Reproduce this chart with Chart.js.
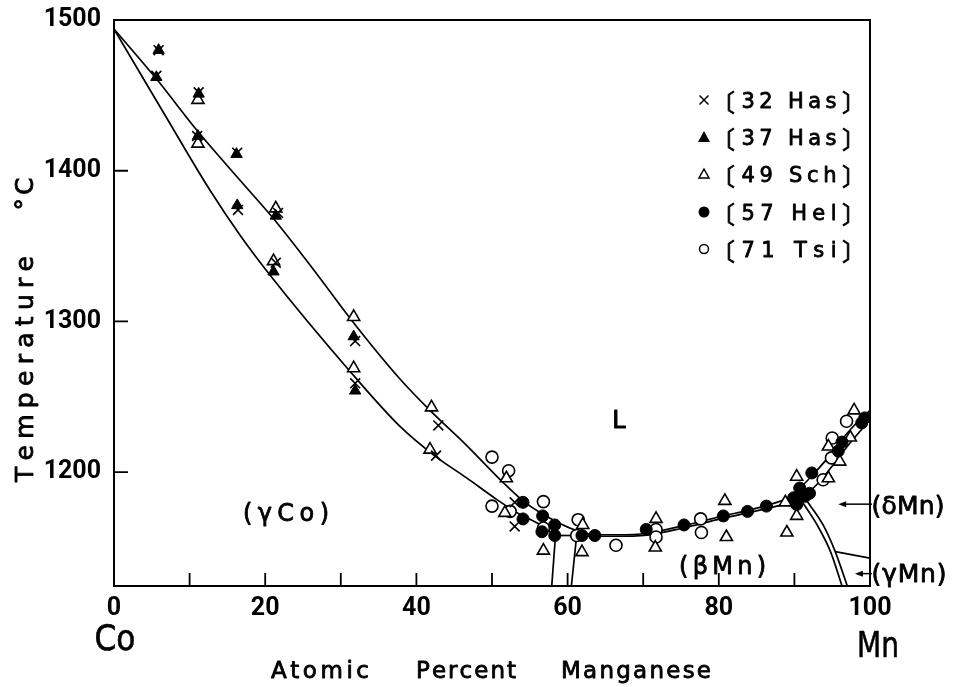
<!DOCTYPE html>
<html><head><meta charset="utf-8">
<script src="https://cdn.jsdelivr.net/npm/chart.js@4.4.1/dist/chart.umd.min.js"></script>
<style>html,body{margin:0;padding:0;background:#fff}#wrap{width:953px;height:687px;position:relative}</style>
</head><body><div id="wrap"><canvas id="c"></canvas></div>
<script>
// ---------- data ----------
const xTickLabels = [0, 20, 40, 60, 80, 100];
const xMinorTicks = [10, 20, 30, 40, 50, 60, 70, 80, 90];
const yTickLabels = [1200, 1300, 1400, 1500];
const yMinorTicks = [1200, 1300, 1400];
const seriesNames = ['32 Has', '37 Has', '49 Sch', '57 Hel', '71 Tsi'];

const has32 = [[5.9,1480],[5.6,1463],[11.2,1452],[11.0,1423],[16.3,1412],[16.4,1374],[21.7,1372],[21.4,1339],[31.9,1287],[31.9,1259],[42.9,1231],[42.6,1211],[53.0,1180],[53.0,1164]];
const has37 = [[5.9,1480],[5.6,1462],[11.2,1451],[11.1,1423],[16.2,1411],[16.3,1377],[21.4,1370],[21.1,1333],[31.7,1290],[31.9,1254]];
const sch49 = [[11.1,1447],[11.1,1418],[21.4,1375],[21.1,1340],[31.7,1303],[31.7,1269],[42.0,1243],[41.8,1215],[51.9,1196],[51.7,1173],[56.8,1148],[61.9,1147],[62.0,1165],[71.7,1169],[71.6,1150],[80.8,1181],[81.0,1157],[88.8,1180],[89.0,1160],[90.3,1197],[90.3,1171],[94.5,1196],[94.5,1217],[96.0,1207],[97.4,1223],[97.9,1241]];
const hel57 = [[54.1,1180],[54.1,1169],[56.7,1171],[56.6,1160.5],[58.3,1165],[58.3,1158],[61.9,1158],[63.6,1158],[70.4,1162],[75.4,1165],[80.6,1171],[83.8,1174],[86.3,1177.5],[89.9,1183],[90.3,1178.5],[90.7,1189.5],[91.4,1184],[92.3,1199.5],[92.0,1186],[95.8,1214],[96.3,1220],[98.9,1232.7],[99.3,1236]];
const tsi71 = [[50.0,1210],[52.2,1201],[50.0,1177.5],[52.4,1174],[56.8,1180.5],[56.8,1163],[61.4,1168.5],[61.2,1158],[66.4,1151.5],[71.7,1162],[71.7,1157],[77.6,1169],[77.7,1160],[93.8,1195],[94.9,1209.5],[95.0,1222.7],[96.9,1233.8]];

// phase boundary curves
const liquidus = [[0,1494],[5.6,1461],[11.1,1426],[16.7,1393.5],[21.3,1367],[26.3,1335],[31.4,1301],[37.8,1262],[41.8,1241],[46.6,1218],[51.5,1193],[54.1,1181],[56.8,1172],[60.8,1162],[63.5,1158.5],[66.5,1158.5],[70.5,1159.5],[75.3,1164.5],[80.2,1170.5],[86.0,1177.5],[89.5,1184],[92.0,1196],[94.0,1207],[96.0,1220],[98.0,1231.5],[100,1241]];
const solidusCo = [[0,1494],[6.5,1439],[12.7,1387],[16.7,1357],[20.6,1331],[31.2,1267],[37.8,1230.5],[42.2,1211.7],[46.65,1196.2],[50.6,1182],[53.7,1172],[56.3,1165.4],[58.4,1158]];
const peritecticCo = [[58.4,1158],[61.2,1158]];
const coBoundary = [[58.4,1158],[57.9,1124.5]];
const mnBoundaryLeft = [[61.2,1158],[60.5,1124.5]];
const solidusBetaMn = [[61.2,1157.5],[66.0,1157.5],[70.5,1158.3],[75.3,1163],[80.2,1169],[86.0,1175.5],[89.5,1180],[90.8,1182]];
const solidusDeltaMn = [[90.8,1182],[93.2,1193],[95.3,1206],[97.3,1219],[99.0,1229],[100,1235]];
const betaDelta1 = [[90.8,1182],[93.0,1165],[94.8,1147],[96.3,1124.5]];
const betaDelta2 = [[91.5,1182],[93.8,1165],[95.4,1147.3],[97.0,1124.5]];
const gammaDelta = [[95.4,1147.3],[100,1143]];

// ---------- chart ----------
const XMIN = 0, XMAX = 100, YMIN = 1124.5, YMAX = 1500;
const FONT = 'Roboto, "DejaVu Sans", sans-serif';
const DV = '"DejaVu Sans", sans-serif';
const toXY = a => a.map(p => ({x: p[0], y: p[1]}));

function curve(d) {
  return {data: toXY(d), showLine: true, pointRadius: 0, pointHoverRadius: 0,
    borderColor: '#000', borderWidth: 1.7, fill: false,
    cubicInterpolationMode: d.length > 2 ? 'monotone' : 'default', tension: 0};
}

function drawSpaced(ctx, text, cx, baseline, width, font, sw) {
  ctx.save();
  ctx.font = font; ctx.textAlign = 'left'; ctx.textBaseline = 'alphabetic';
  ctx.fillStyle = '#000'; ctx.strokeStyle = '#000'; ctx.lineWidth = sw == null ? 0.8 : sw; ctx.lineJoin = 'round';
  ctx.translate(cx, baseline);
  const chars = [...text];
  const ws = chars.map(c => ctx.measureText(c).width);
  const total = ws.reduce((a, b) => a + b, 0);
  const gap = chars.length > 1 ? (width - total) / (chars.length - 1) : 0;
  let x = chars.length > 1 ? -width / 2 : -total / 2;
  chars.forEach((c, i) => { ctx.fillText(c, x, 0); if (ctx.lineWidth > 0.01) ctx.strokeText(c, x, 0); x += ws[i] + gap; });
  ctx.restore();
}
function drawFit(ctx, text, cx, baseline, width, font, sw) {
  ctx.save();
  ctx.font = font; ctx.textAlign = 'center'; ctx.textBaseline = 'alphabetic';
  ctx.fillStyle = '#000'; ctx.strokeStyle = '#000'; ctx.lineWidth = sw || 0.8; ctx.lineJoin = 'round';
  const w = ctx.measureText(text).width;
  ctx.translate(cx, baseline); ctx.scale(width / w, 1);
  ctx.fillText(text, 0, 0); ctx.strokeText(text, 0, 0);
  ctx.restore();
}
function drawInk(ctx, ch, inkLeft, baseline, font) {
  ctx.save(); ctx.font = font; ctx.textAlign = 'left'; ctx.textBaseline = 'alphabetic';
  ctx.fillStyle = '#000'; ctx.strokeStyle = '#000'; ctx.lineWidth = 0.8;
  const m = ctx.measureText(ch);
  ctx.fillText(ch, inkLeft + m.actualBoundingBoxLeft, baseline);
  ctx.strokeText(ch, inkLeft + m.actualBoundingBoxLeft, baseline);
  ctx.restore();
}
function marker(ctx, type, x, y) {
  ctx.save(); ctx.strokeStyle = '#000'; ctx.fillStyle = '#000'; ctx.lineWidth = 1.5;
  ctx.beginPath();
  if (type === 'x') { ctx.moveTo(x-4.5,y-4.5); ctx.lineTo(x+4.5,y+4.5); ctx.moveTo(x+4.5,y-4.5); ctx.lineTo(x-4.5,y+4.5); ctx.stroke(); }
  else if (type === 'tf') { ctx.moveTo(x,y-6); ctx.lineTo(x+6,y+5); ctx.lineTo(x-6,y+5); ctx.closePath(); ctx.fill(); }
  else if (type === 'to') { ctx.moveTo(x,y-5); ctx.lineTo(x+5,y+4); ctx.lineTo(x-5,y+4); ctx.closePath(); ctx.stroke(); }
  else if (type === 'cf') { ctx.arc(x,y,5.5,0,Math.PI*2); ctx.fill(); }
  else if (type === 'co') { ctx.arc(x,y,4.5,0,Math.PI*2); ctx.stroke(); }
  ctx.restore();
}

const legendMarkers = ['x', 'tf', 'to', 'cf', 'co'];

const decor = {
  id: 'decor',
  afterDraw(chart) {
    const ctx = chart.ctx, a = chart.chartArea;
    const xs = chart.scales.x, ys = chart.scales.y;
    const px = v => xs.getPixelForValue(v), py = v => ys.getPixelForValue(v);
    ctx.save();
    ctx.strokeStyle = '#000'; ctx.fillStyle = '#000'; ctx.lineWidth = 2;
    // frame top and right
    ctx.beginPath(); ctx.moveTo(a.left, a.top); ctx.lineTo(a.right, a.top); ctx.lineTo(a.right, a.bottom); ctx.stroke();
    // inner ticks
    ctx.lineWidth = 1.8;
    ctx.beginPath();
    xMinorTicks.forEach(v => { ctx.moveTo(px(v), a.bottom); ctx.lineTo(px(v), a.bottom - 13); });
    yMinorTicks.forEach(v => { ctx.moveTo(a.left, py(v)); ctx.lineTo(a.left + 14, py(v)); });
    ctx.stroke();

    // legend
    const rows = [100, 137, 174, 212, 249];
    seriesNames.forEach((n, i) => {
      const cy = rows[i], bl = cy + 8;
      marker(ctx, legendMarkers[i], 704, cy);
      drawInk(ctx, '〔', 728, bl + 3, '24px "Noto Sans CJK JP"');
      drawSpaced(ctx, n, 789, bl, 95, '21px ' + DV);
      drawInk(ctx, '〕', 842, bl + 3, '24px "Noto Sans CJK JP"');
    });

    // region labels
    drawSpaced(ctx, 'L', px(66.8), py(1229.3), 1, '24px ' + DV, 1);
    drawSpaced(ctx, '(γCo)', px(22.75), py(1167.5), 86, '24px ' + DV);
    drawSpaced(ctx, '(βMn)', px(80.5), py(1132.5), 87, '24px ' + DV);
    drawSpaced(ctx, '(δMn)', a.right + 38, py(1172.5), 73, '25px ' + DV);
    drawSpaced(ctx, '(γMn)', a.right + 39, py(1127), 75, '25px ' + DV);

    // arrows
    ctx.lineWidth = 1.5;
    const arrow = (x0, x1, y) => {
      ctx.beginPath(); ctx.moveTo(x1, y); ctx.lineTo(x0 + 6, y); ctx.stroke();
      ctx.beginPath(); ctx.moveTo(x0, y); ctx.lineTo(x0 + 8, y - 3); ctx.lineTo(x0 + 8, y + 3); ctx.closePath(); ctx.fill();
    };
    arrow(px(95.8), a.right + 2, py(1178.8));
    arrow(px(98.0), a.right + 2, py(1132.7));

    // axis titles
    drawFit(ctx, 'Co', 115, 650, 41, '35px ' + DV, 0.6);
    drawFit(ctx, 'Mn', 878, 657, 42, '35px ' + DV, 0.6);
    drawSpaced(ctx, 'Atomic', 320, 678, 98, '23px ' + DV);
    drawSpaced(ctx, 'Percent', 466, 678, 100, '23px ' + DV);
    drawSpaced(ctx, 'Manganese', 636, 678, 150, '23px ' + DV);
    ctx.restore();
    // rotated titles
    ctx.save(); ctx.translate(33, 369); ctx.rotate(-Math.PI / 2);
    drawSpaced(ctx, 'Temperature', 0, 0, 226, '25px ' + DV);
    ctx.restore();
    ctx.save(); ctx.translate(33, 194); ctx.rotate(-Math.PI / 2);
    drawSpaced(ctx, '°C', 0, 0, 33, '25px ' + DV);
    ctx.restore();
  }
};

new Chart(document.getElementById('c'), {
  type: 'scatter',
  data: {
    datasets: [
      {label: seriesNames[0], data: toXY(has32), pointStyle: 'crossRot', pointRadius: 7, pointBorderWidth: 1.6, pointBorderColor: '#000', pointBackgroundColor: '#000'},
      {label: seriesNames[1], data: toXY(has37), pointStyle: 'triangle', pointRadius: 6.5, pointBorderWidth: 1, pointBorderColor: '#000', pointBackgroundColor: '#000'},
      {label: seriesNames[3], data: toXY(hel57), pointStyle: 'circle', pointRadius: 6, pointBorderWidth: 1, pointBorderColor: '#000', pointBackgroundColor: '#000'},
      {label: seriesNames[2], data: toXY(sch49), pointStyle: 'triangle', pointRadius: 7, pointBorderWidth: 1.6, pointBorderColor: '#000', pointBackgroundColor: '#fff'},
      {label: seriesNames[4], data: toXY(tsi71), pointStyle: 'circle', pointRadius: 6, pointBorderWidth: 1.6, pointBorderColor: '#000', pointBackgroundColor: '#fff'},
      curve(liquidus), curve(solidusCo), curve(peritecticCo), curve(coBoundary), curve(mnBoundaryLeft),
      curve(solidusBetaMn), curve(solidusDeltaMn), curve(betaDelta1), curve(betaDelta2), curve(gammaDelta)
    ]
  },
  options: {
    responsive: true, maintainAspectRatio: false, animation: false, events: [],
    devicePixelRatio: 1,
    layout: {padding: {top: 18, right: 83, left: 0, bottom: 0}},
    plugins: {legend: {display: false}, tooltip: {enabled: false}},
    scales: {
      x: {
        type: 'linear', position: 'bottom', min: XMIN, max: XMAX,
        afterBuildTicks: s => { s.ticks = xTickLabels.map(v => ({value: v})); },
        afterFit: s => { s.height = 101; },
        grid: {display: false},
        border: {display: true, color: '#000', width: 2},
        ticks: {color: '#000', font: {family: FONT, size: 25, weight: 'bold'}, padding: 0, maxRotation: 0, autoSkip: false, callback: v => String(v)},
        title: {display: false}
      },
      y: {
        type: 'linear', position: 'left', min: YMIN, max: YMAX,
        afterBuildTicks: s => { s.ticks = yTickLabels.map(v => ({value: v})); },
        afterFit: s => { s.width = 114; },
        grid: {display: false},
        border: {display: true, color: '#000', width: 2},
        ticks: {color: '#000', font: {family: FONT, size: 25, weight: 'bold'}, padding: 5, autoSkip: false, callback: v => String(v)},
        title: {display: false}
      }
    }
  },
  plugins: [decor]
});
</script>
</body></html>
